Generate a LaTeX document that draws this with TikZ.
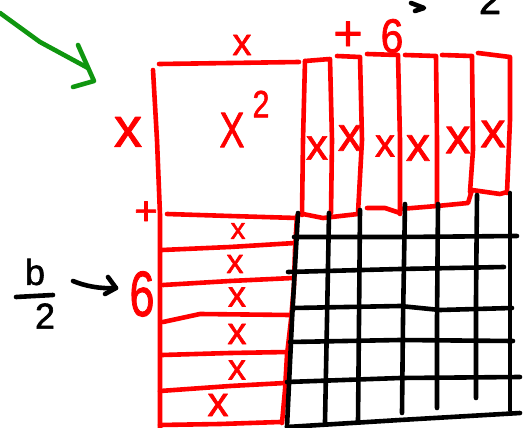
\documentclass[tikz,border=0pt]{standalone}
\usepackage{fontspec}
\setmainfont{Liberation Sans}
\newfontfamily\hand[FakeBold=1.6]{Liberation Sans}
\definecolor{handred}{RGB}{255,0,0}
\definecolor{handgreen}{RGB}{15,150,15}
\newcommand{\fsz}[1]{\hand\fontsize{#1}{#1}\selectfont}
\begin{document}
\begin{tikzpicture}[x=1pt,y=-1pt,line cap=round,line join=round,
  redline/.style={draw=handred,line width=4.6pt},
  blackline/.style={draw=black,line width=4.6pt},
  greenline/.style={draw=handgreen,line width=4.6pt},
  redtext/.style={text=handred,inner sep=0pt},
  blacktext/.style={text=black,inner sep=0pt}]
\useasboundingbox (0,0) rectangle (525,428);
\clip (0,0) rectangle (525,428);

% green arrow
\coordinate (gA) at (0,13);
\coordinate (gB) at (88,68);
\coordinate (gT) at (94,81);
\draw[greenline] (gA) -- (40,42) -- (gB);
\draw[greenline] (78,45) -- (gT) -- (73,87);

% big x^2 square
\draw[redline] (159,64) -- (230,63) -- (299,62);
\draw[redline] (153,70) -- (157,140) -- (160,215) -- (160,300) -- (160,430);
\draw[redline] (167,214) -- (230,216) -- (297,218);
\draw[redline] (305,61) -- (303,140) -- (302,215);

% top-right strips
\draw[redline] (305,61) -- (330,59) -- (332,140) -- (331,213);
\draw[redline] (337,56) -- (360,57) -- (362,140) -- (358,213);
\draw[redline] (367,54) -- (398,55) -- (400,140) -- (400,214);
\draw[redline] (405,55) -- (436,56) -- (437,140) -- (437,205);
\draw[redline] (442,55) -- (472,56) -- (473,150) -- (470,192);
\draw[redline] (478,53) -- (510,57) -- (510,120) -- (507,193);
\draw[redline] (303,214) -- (323,218) -- (358,214);
\draw[redline] (367,208) -- (385,208) -- (400,213);
\draw[redline] (400,209) -- (437,206) -- (468,203) -- (472,190) -- (500,194) -- (507,192);

% lower-left strips
\draw[redline] (297,216) -- (295,250) -- (294,285) -- (291,320) -- (287,355) -- (285,390) -- (282,423);
\draw[redline] (162,250) -- (230,247) -- (295,243);
\draw[redline] (163,285) -- (230,281) -- (293,278);
\draw[redline] (163,322) -- (200,314) -- (290,315);
\draw[redline] (162,355) -- (230,353) -- (288,352);
\draw[redline] (160,391) -- (230,386) -- (285,383);
\draw[redline] (160,425) -- (220,424) -- (280,422);

% black grid
\draw[blackline] (298,213) -- (292,320) -- (287,427);
\draw[blackline] (329,213) -- (327,320) -- (325,422);
\draw[blackline] (360,210) -- (359,320) -- (358,422);
\draw[blackline] (405,204) -- (403,320) -- (402,413);
\draw[blackline] (438,204) -- (437,320) -- (437,408);
\draw[blackline] (477,195) -- (476,300) -- (476,398);
\draw[blackline] (510,193) -- (510,300) -- (510,410);
\draw[blackline] (294,237) -- (400,237) -- (517,236);
\draw[blackline] (288,272) -- (400,269) -- (504,267);
\draw[blackline] (293,308) -- (400,306) -- (440,310) -- (512,308);
\draw[blackline] (290,342) -- (400,340) -- (513,341);
\draw[blackline] (287,382) -- (400,378) -- (520,377);
\draw[blackline] (287,427) -- (400,420) -- (520,413);

% red labels
\node[redtext] (topx) at (242,45) {\fsz{38}x};
\node[redtext] (leftx) at (128,132) {\fsz{56}x};
\node[redtext,xscale=0.75] (sqX) at (232,130) {\fsz{50}X};
\node[redtext,xscale=0.8] (sqtwo) at (261,104) {\fsz{38}2};
\node[redtext] (leftplus) at (146,213) {\fsz{40}+};
\node[redtext,xscale=0.7] (leftsix) at (142,294) {\fsz{64}6};
\node[redtext] (topplus) at (348,36) {\fsz{50}+};
\node[redtext,xscale=0.85] (topsix) at (392,36) {\fsz{48}6};

\node[redtext] (s1x) at (317,148) {\fsz{44}x};
\node[redtext] (s2x) at (350,138) {\fsz{48}x};
\node[redtext] (s3x) at (385,146) {\fsz{40}x};
\node[redtext] (s4x) at (418,148) {\fsz{48}x};
\node[redtext] (s5x) at (458,140) {\fsz{50}x};
\node[redtext] (s6x) at (493,134) {\fsz{50}x};

\node[redtext] (r1x) at (238,231) {\fsz{30}x};
\node[redtext] (r2x) at (235,264) {\fsz{34}x};
\node[redtext] (r3x) at (237,297) {\fsz{36}x};
\node[redtext] (r4x) at (237,334) {\fsz{38}x};
\node[redtext] (r5x) at (237,370) {\fsz{36}x};
\node[redtext] (r6x) at (218,405) {\fsz{42}x};

% black b/2 and arrow
\node[blacktext] (bnum) at (35,272) {\fsz{36}b};
\draw[blackline] (16,297) -- (53,295);
\node[blacktext] (bden) at (45,316) {\fsz{36}2};
\coordinate (kA) at (73,281);
\coordinate (kT) at (116,288);
\draw[blackline] (kA) .. controls (85,286) and (100,289) .. (kT);
\draw[blackline] (108,277) -- (kT) -- (105,294);

% black fragments at top right
\draw[blackline] (411,3) -- (424,8) -- (415,11);
\node[blacktext] (toptwo) at (490,0) {\fsz{40}2};
\end{tikzpicture}
\end{document}
